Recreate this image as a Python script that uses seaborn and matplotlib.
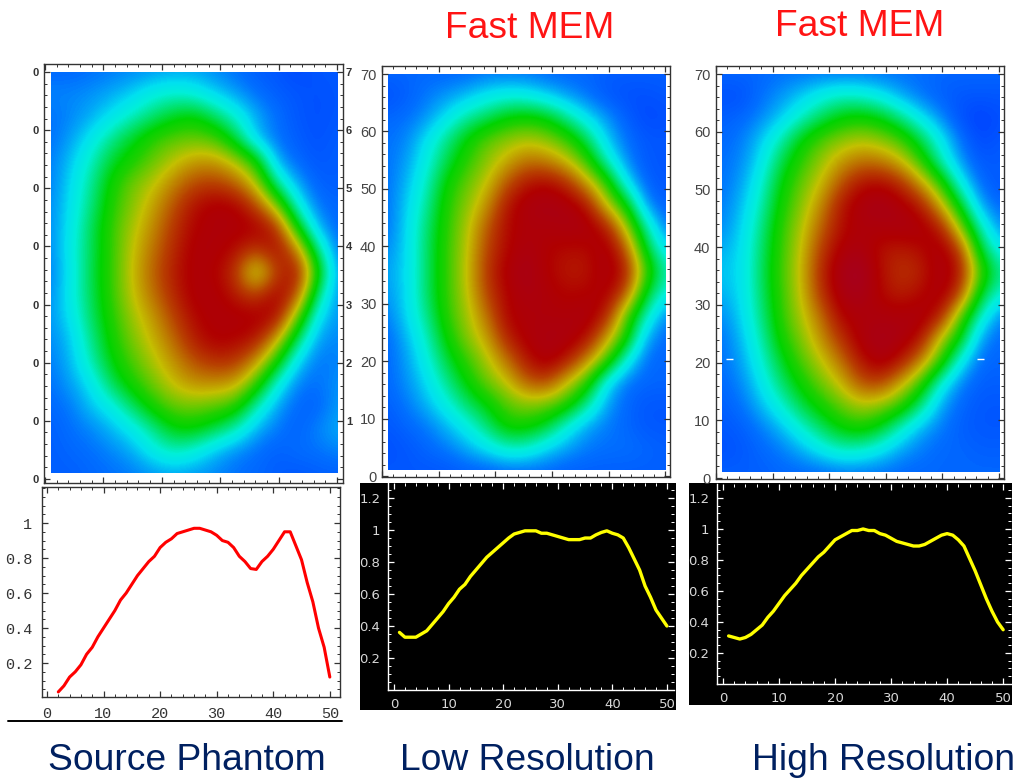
import numpy as np
import matplotlib
matplotlib.use('Agg')
import matplotlib.pyplot as plt
from matplotlib.colors import LinearSegmentedColormap
from matplotlib.patches import Rectangle
from matplotlib.ticker import MultipleLocator
import seaborn as sns

# ---------------------------------------------------------------
# Data
# ---------------------------------------------------------------
source_x = list(range(2, 51))
source_y = [.035, .07, .12, .15, .19, .25, .29, .35, .40, .45, .50, .56, .60, .65, .70, .74, .78, .81, .86, .89,
            .91, .94, .95, .96, .97, .97, .96, .95, .93, .90, .89, .86, .81, .78, .74, .735, .78, .81, .85, .90,
            .95, .95, .87, .79, .66, .55, .40, .29, .12]

low_x = list(range(1, 51))
low_y = [.36, .33, .33, .33, .35, .37, .41, .45, .49, .54, .58, .63, .66, .71, .75, .79, .83, .86, .89, .92,
         .95, .975, .985, .995, .995, .995, .98, .98, .97, .96, .95, .94, .94, .94, .95, .95, .97, .985, .995, .98,
         .97, .95, .89, .82, .75, .65, .58, .50, .45, .40]

high_x = list(range(1, 51))
high_y = [.31, .30, .29, .30, .32, .35, .38, .43, .47, .52, .57, .61, .65, .70, .74, .78, .82, .85, .89, .93,
          .95, .97, .99, .99, 1.0, .99, .99, .97, .96, .94, .92, .91, .90, .89, .89, .90, .92, .94, .96, .97,
          .96, .93, .89, .81, .73, .64, .55, .47, .40, .35]

# rows run from y=70 at the top down to y=1, columns from x=1 to x=50
source_grid = [
    [.12, .12, .13, .14, .15, .16, .17, .17, .15, .13, .11, .10, .08, .10, .10],
    [.15, .15, .16, .18, .21, .26, .28, .26, .21, .17, .13, .11, .10, .09, .10],
    [.13, .15, .18, .23, .29, .35, .41, .44, .36, .27, .18, .13, .10, .09, .10],
    [.13, .17, .24, .33, .41, .49, .53, .54, .52, .39, .19, .13, .11, .09, .11],
    [.14, .20, .29, .40, .47, .54, .61, .67, .67, .60, .47, .17, .12, .10, .11],
    [.14, .22, .32, .46, .55, .61, .70, .77, .79, .74, .61, .32, .17, .11, .11],
    [.15, .23, .34, .48, .57, .66, .76, .86, .90, .89, .78, .57, .26, .13, .12],
    [.15, .24, .37, .50, .60, .69, .80, .88, .90, .90, .90, .83, .45, .18, .12],
    [.15, .25, .37, .50, .62, .72, .82, .90, .90, .86, .78, .88, .72, .33, .13],
    [.14, .24, .38, .50, .63, .74, .84, .90, .88, .80, .52, .78, .88, .47, .15],
    [.15, .25, .37, .50, .62, .72, .82, .90, .90, .84, .78, .90, .78, .33, .15],
    [.16, .23, .36, .48, .59, .67, .78, .87, .90, .90, .90, .88, .55, .22, .16],
    [.15, .20, .33, .46, .56, .64, .73, .84, .89, .88, .85, .66, .36, .16, .15],
    [.14, .19, .30, .43, .52, .60, .68, .76, .81, .80, .68, .46, .21, .13, .15],
    [.13, .17, .23, .37, .47, .55, .63, .68, .68, .66, .50, .26, .14, .13, .16],
    [.12, .14, .20, .25, .36, .47, .54, .55, .53, .49, .30, .17, .12, .11, .17],
    [.11, .13, .15, .19, .24, .33, .43, .44, .38, .30, .18, .14, .11, .15, .18],
    [.11, .12, .13, .15, .18, .25, .30, .26, .19, .15, .13, .11, .13, .13, .15],
    [.11, .11, .12, .13, .14, .16, .17, .16, .15, .13, .12, .11, .10, .11, .11],
]

low_grid = [
    [.12, .12, .12, .12, .12, .13, .13, .13, .12, .12, .12, .11, .11, .11, .11],
    [.09, .11, .14, .16, .19, .23, .25, .24, .20, .16, .13, .10, .09, .09, .10],
    [.12, .13, .16, .23, .31, .36, .43, .45, .42, .32, .22, .16, .11, .08, .09],
    [.13, .15, .23, .33, .44, .53, .57, .60, .57, .50, .37, .20, .13, .10, .10],
    [.13, .17, .26, .38, .49, .57, .65, .72, .70, .63, .50, .29, .15, .10, .10],
    [.13, .19, .29, .45, .54, .62, .76, .85, .88, .82, .67, .50, .23, .11, .10],
    [.13, .21, .32, .48, .57, .68, .85, .92, .93, .92, .86, .62, .45, .15, .11],
    [.13, .22, .35, .49, .60, .75, .87, .90, .90, .92, .92, .85, .60, .31, .13],
    [.15, .22, .36, .50, .61, .78, .87, .92, .88, .86, .86, .92, .76, .40, .22],
    [.17, .22, .36, .50, .62, .80, .90, .94, .88, .84, .84, .92, .85, .52, .30],
    [.16, .22, .36, .50, .61, .78, .88, .92, .90, .87, .88, .90, .76, .40, .25],
    [.14, .22, .33, .49, .59, .72, .88, .90, .90, .90, .92, .84, .52, .29, .14],
    [.12, .19, .29, .45, .57, .66, .83, .90, .92, .92, .87, .67, .47, .17, .12],
    [.12, .17, .26, .39, .50, .60, .72, .85, .92, .85, .70, .52, .26, .12, .12],
    [.12, .16, .22, .33, .44, .55, .62, .75, .78, .63, .50, .23, .13, .12, .12],
    [.11, .14, .19, .26, .36, .43, .53, .57, .55, .49, .33, .17, .12, .10, .10],
    [.10, .12, .14, .19, .25, .35, .46, .46, .40, .26, .17, .14, .12, .10, .10],
    [.09, .10, .12, .14, .18, .23, .29, .28, .21, .17, .14, .13, .13, .12, .11],
    [.10, .10, .10, .10, .11, .11, .12, .12, .12, .11, .11, .11, .11, .11, .11],
]

high_grid = [
    [.12, .12, .12, .13, .13, .13, .13, .13, .13, .13, .13, .12, .12, .12, .12],
    [.09, .09, .13, .16, .20, .25, .28, .27, .23, .17, .13, .11, .10, .10, .10],
    [.11, .12, .15, .20, .28, .36, .43, .45, .42, .33, .23, .15, .09, .07, .09],
    [.12, .14, .20, .30, .43, .52, .57, .60, .57, .51, .38, .24, .13, .08, .10],
    [.13, .15, .23, .38, .49, .58, .67, .72, .71, .64, .50, .30, .16, .10, .11],
    [.13, .17, .27, .43, .54, .63, .76, .86, .88, .82, .68, .50, .25, .12, .10],
    [.14, .19, .30, .46, .57, .69, .85, .92, .94, .91, .85, .66, .42, .17, .12],
    [.15, .21, .33, .49, .60, .74, .86, .90, .90, .92, .91, .85, .58, .30, .15],
    [.18, .22, .35, .50, .62, .79, .90, .92, .85, .83, .86, .92, .80, .40, .24],
    [.20, .22, .36, .51, .63, .82, .94, .97, .86, .80, .82, .92, .86, .52, .33],
    [.18, .22, .35, .50, .62, .80, .92, .94, .87, .83, .87, .92, .78, .40, .26],
    [.15, .21, .33, .49, .60, .72, .88, .90, .91, .91, .92, .84, .52, .28, .14],
    [.13, .19, .30, .46, .56, .68, .80, .91, .94, .92, .86, .60, .43, .16, .12],
    [.13, .17, .27, .40, .52, .61, .72, .85, .92, .85, .70, .50, .24, .12, .12],
    [.12, .15, .23, .35, .45, .55, .63, .76, .78, .65, .50, .26, .14, .11, .11],
    [.11, .13, .19, .27, .38, .46, .54, .60, .57, .50, .34, .17, .12, .10, .10],
    [.10, .11, .14, .19, .27, .36, .44, .47, .41, .28, .18, .14, .11, .10, .10],
    [.09, .10, .12, .14, .18, .24, .29, .28, .23, .17, .14, .12, .12, .11, .11],
    [.11, .11, .11, .12, .12, .12, .13, .13, .13, .12, .12, .12, .12, .12, .12],
]

map_stops = [0.0, .08, .13, .22, .27, .43, .48, .62, .78, .88, 1.0]
map_colors = ['#0030ff', '#0048ff', '#0070ff', '#00e0f0', '#00f0d8', '#00d400', '#20d000', '#c4c000', '#b84000',
              '#b00000', '#a00030']

y_ticks = [0, 10, 20, 30, 40, 50, 60, 70]
right_ticks = [10, 20, 30, 40, 50, 60, 70]
right_labels = ['1', '2', '3', '4', '5', '6', '7']
x_ticks = [0, 10, 20, 30, 40, 50]
line_y_ticks = [.2, .4, .6, .8, 1]
line_y_labels = ['0.2', '0.4', '0.6', '0.8', '1']
tall_y_ticks = [.2, .4, .6, .8, 1, 1.2]
tall_y_labels = ['0.2', '0.4', '0.6', '0.8', '1', '1.2']

# ---------------------------------------------------------------
# Figure setup
# ---------------------------------------------------------------
W, H = 1015, 778
sns.set_theme(style='ticks')
plt.rcParams['font.family'] = ['Liberation Sans', 'DejaVu Sans']
fig = plt.figure(figsize=(W / 100, H / 100), dpi=100, facecolor='white')
field_cmap = LinearSegmentedColormap.from_list('field', list(zip(map_stops, map_colors)))


def box(left, top, right, bottom):
    # pixel box -> axes
    return fig.add_axes([left / W, 1 - bottom / H, (right - left) / W, (bottom - top) / H])


def style_ticks(ax, color, minor_x=2, minor_y=2.0):
    ax.xaxis.set_minor_locator(MultipleLocator(minor_x))
    ax.yaxis.set_minor_locator(MultipleLocator(minor_y))
    ax.tick_params(which='both', direction='in', top=True, right=True, color=color)
    ax.tick_params(which='major', length=4, width=0.9)
    ax.tick_params(which='minor', length=2, width=0.7)
    for s in ax.spines.values():
        s.set_color(color)
        s.set_linewidth(1.0)


def field_panel(grid, pos, xlim, ylim, label_size=10.5, label_color='#444444'):
    ax = box(*pos)
    # the grid samples sit on x=1..50, y=1..70 including the ends, so cells stick out half a step
    half_x = 49 / 14 / 2
    half_y = 69 / 18 / 2
    im = ax.imshow(np.array(grid), cmap=field_cmap, vmin=0, vmax=1, aspect='auto', origin='upper',
                   extent=(1 - half_x, 50 + half_x, 1 - half_y, 70 + half_y), interpolation='bicubic')
    im.set_clip_path(Rectangle((1, 1), 49, 69, transform=ax.transData))
    ax.set_xlim(*xlim)
    ax.set_ylim(*ylim)
    ax.set_xticks(x_ticks)
    ax.set_xticklabels([])
    ax.set_yticks(y_ticks)
    ax.set_yticklabels([str(t) for t in y_ticks], fontsize=label_size, color=label_color)
    style_ticks(ax, '#333333', 2, 2.0)
    ax.tick_params(axis='y', which='major', pad=4)
    ax.grid(False)
    return ax


def line_panel(xs, ys, pos, xlim, ylim, line_color, width, dark, yticks, ylabels, font, size, pad):
    ax = box(*pos)
    ax.set_facecolor('black' if dark else 'white')
    sns.lineplot(x=xs, y=ys, ax=ax, color=line_color, linewidth=width, errorbar=None)
    ax.set_xlim(*xlim)
    ax.set_ylim(*ylim)
    ax.set_xticks(x_ticks)
    ax.set_xticklabels([str(t) for t in x_ticks])
    ax.set_yticks(yticks)
    ax.set_yticklabels(ylabels)
    ax.set_xlabel('')
    ax.set_ylabel('')
    tick_color = 'white' if dark else '#333333'
    style_ticks(ax, tick_color, 2, 0.05)
    text_color = '#d8d8d8' if dark else '#333333'
    ax.tick_params(axis='both', which='major', labelsize=size, labelcolor=text_color, pad=pad)
    for t in ax.get_xticklabels() + ax.get_yticklabels():
        t.set_family(font)
    if dark:
        for side in ['top', 'right']:
            ax.spines[side].set_visible(False)
    ax.grid(False)
    return ax


# ---------------------------------------------------------------
# Black backing behind the two right line plots
# ---------------------------------------------------------------
for left, top, right, bottom in [(360, 483, 676, 710), (689, 483, 1012, 705)]:
    fig.add_artist(Rectangle((left / W, 1 - bottom / H), (right - left) / W, (bottom - top) / H,
                             transform=fig.transFigure, facecolor='black', edgecolor='none', zorder=-1))

# ---------------------------------------------------------------
# Heat maps
# ---------------------------------------------------------------
ax_src = field_panel(source_grid, (44, 64, 343, 483), (-0.17, 51), (-0.7, 71.4))
ax_src.set_yticklabels(['0'] * len(y_ticks), fontsize=8, color='#333333', fontweight='bold')
right_axis = ax_src.secondary_yaxis('right')
right_axis.set_yticks(right_ticks)
right_axis.set_yticklabels(right_labels, fontsize=8, color='#333333', fontweight='bold')
right_axis.tick_params(length=0, pad=2)
right_axis.spines['right'].set_visible(False)

field_panel(low_grid, (382, 66, 670, 477), (0, 50.8), (-0.17, 71.4))
ax_high = field_panel(high_grid, (716, 66, 1004, 479), (0, 50.9), (-0.17, 71.4))
ax_high.hlines([20.6, 20.6], [1.8, 46.2], [3.0, 47.4], color='white', linewidth=1.0)

# ---------------------------------------------------------------
# Line plots
# ---------------------------------------------------------------
line_panel(source_x, source_y, (42, 487, 340, 697), (-0.88, 51.8), (0.006, 1.206), '#ff0000', 2.2, False,
           line_y_ticks, line_y_labels, 'Liberation Mono', 11, 7)
line_panel(low_x, low_y, (388, 483, 674, 690), (-1.1, 51.3), (0.0, 1.294), '#ffff00', 2.4, True,
           tall_y_ticks, tall_y_labels, 'DejaVu Sans', 9.5, 5.5)
line_panel(high_x, high_y, (717, 484, 1011, 684), (-1.07, 51.4), (0.0, 1.29), '#ffff00', 2.4, True,
           tall_y_ticks, tall_y_labels, 'DejaVu Sans', 9.5, 5.5)

fig.add_artist(plt.Line2D([8 / W, 342 / W], [1 - 721 / H, 1 - 721 / H], color='black', linewidth=1.4))

# ---------------------------------------------------------------
# Titles and captions
# ---------------------------------------------------------------
for txt, cx, cy, col in [('Fast MEM', 530, 29, '#ff1414'), ('Fast MEM', 860, 26, '#ff1414'),
                         ('Source Phantom', 187, 761, '#002060'), ('Low Resolution', 527, 761, '#002060'),
                         ('High Resolution', 883, 760, '#002060')]:
    fig.text(cx / W, 1 - cy / H, txt, color=col, fontsize=26.8, ha='center', va='center',
             family='Liberation Sans')

fig.savefig('out.png', dpi=100)
